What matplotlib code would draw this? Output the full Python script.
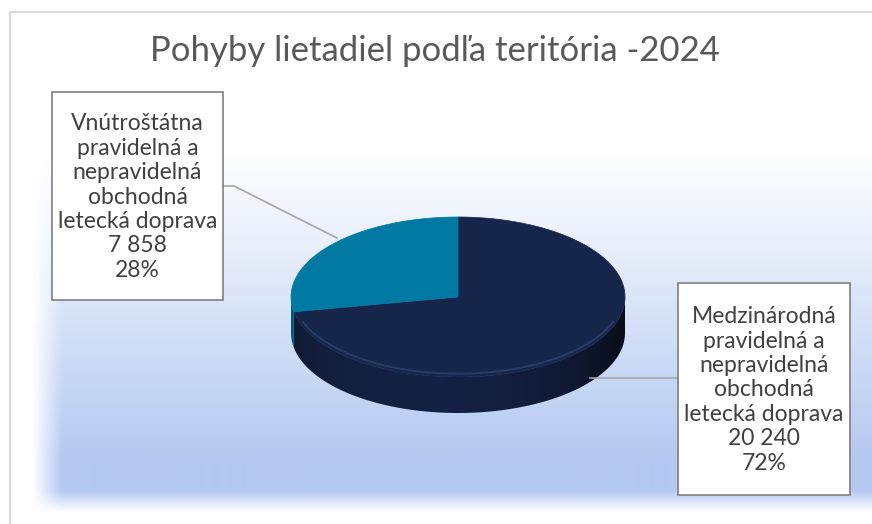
import numpy as np
import matplotlib
matplotlib.use("Agg")
import matplotlib.pyplot as plt
from matplotlib.patches import Polygon, Rectangle
from matplotlib.colors import to_rgb

# ---- data ----
title = "Pohyby lietadiel podľa teritória -2024"
categories = ["Medzinárodná\npravidelná a\nnepravidelná\nobchodná\nletecká doprava",
              "Vnútroštátna\npravidelná a\nnepravidelná\nobchodná\nletecká doprava"]
values = [20240, 7858]
colors = ["#16254a", "#0079a3"]

FONT = ["Lato", "DejaVu Sans"]
W, H = 872, 524
fig = plt.figure(figsize=(W / 100, H / 100), dpi=100)
ax = fig.add_axes([0, 0, 1, 1])
ax.set_xlim(0, W)
ax.set_ylim(H, 0)
ax.axis("off")

# ---- background gradient ----
yy, xx = np.mgrid[0:H, 0:W]
v = np.clip((yy - 150) / 310.0, 0, 1)
v = v * np.clip((512 - yy) / 22.0, 0, 1)
h = np.clip((xx - 32) / 30.0, 0, 1)
a = (v * h)[..., None]
blue = np.array([180, 201, 241]) / 255.0
img = (1 - a) * np.ones(3) + a * blue
ax.imshow(img, extent=(0, W, H, 0), zorder=0, interpolation="bilinear")

# frame
ax.add_patch(Rectangle((10, 12), W + 10, H + 10, fill=False, ec="#d9d9d9", lw=1.5, zorder=1))

# ---- 3D pie ----
cx, cy, rx, ry, depth = 458, 297, 167, 80, 36
total = sum(values)
fracs = [v_ / total for v_ in values]

def pt(theta_deg, dy=0.0, scale=1.0):
    t = np.deg2rad(theta_deg)
    return cx + scale * rx * np.cos(t), cy - scale * ry * np.sin(t) + dy

# angles: first slice clockwise from 12 o'clock
slices = []
start = 90.0
for f, c in zip(fracs, colors):
    end = start - 360 * f
    slices.append((end, start, c))
    start = end

# side walls (front half: 180..360 deg), shaded via clipped image
gx = np.linspace(0, 1, 300)
gy = np.linspace(0, 1, 60)
GX, GY = np.meshgrid(gx, gy)
k = 0.74 + 0.16 * np.sin(np.pi * np.clip(GX * 1.3, 0, 1)) - 0.42 * np.clip((GX - 0.72) / 0.28, 0, 1) ** 2
for lo, hi, c in slices:
    angs = np.linspace(lo, hi, 600)
    angs_n = np.mod(angs, 360)
    mask = (angs_n >= 180) & (angs_n <= 360)
    if not mask.any():
        continue
    sel = angs[mask]
    topp = [pt(t) for t in sel]
    botp = [pt(t, dy=depth) for t in sel[::-1]]
    poly = Polygon(topp + botp, closed=True, fc="none", ec="none", zorder=2)
    ax.add_patch(poly)
    base = np.array(to_rgb(c))
    simg = np.clip(k[..., None] * base, 0, 1)
    im = ax.imshow(simg, extent=(cx - rx, cx + rx, cy + ry + depth, cy - ry * 0.3),
                   zorder=2, interpolation="bilinear", aspect="auto")
    im.set_clip_path(poly)

# reset limits after imshow
ax.set_xlim(0, W)
ax.set_ylim(H, 0)

# top wedges
for lo, hi, c in slices:
    angs = np.linspace(lo, hi, 300)
    pts = [(cx, cy)] + [pt(t) for t in angs]
    ax.add_patch(Polygon(pts, closed=True, fc=c, ec=c, lw=0.5, zorder=3))

# bevel highlight near front rim
arc = np.linspace(200, 340, 200)
hx = [pt(t, dy=-2.5, scale=0.99)[0] for t in arc]
hy = [pt(t, dy=-2.5, scale=0.99)[1] for t in arc]
ax.plot(hx, hy, color="#4a66a0", lw=1.4, alpha=0.35, zorder=4, solid_capstyle="round")

# ---- title ----
ax.text(435, 51, title, ha="center", va="center", fontsize=25, color="#595959",
        family=FONT, zorder=6)

# ---- labels ----
def fmt(v_):
    return f"{v_:,}".replace(",", " ")

label_boxes = [(678, 283, 172, 212), (52, 92, 171, 208)]
leaders = [[(590, 378), (678, 378)], [(337, 238), (234, 186), (223, 186)]]
for (bx, by, bw, bh), lead, cat, val, f in zip(label_boxes, leaders, categories, values, fracs):
    lx, ly = zip(*lead)
    ax.plot(lx, ly, color="#a6a6a6", lw=1.2, zorder=5)
    ax.add_patch(Rectangle((bx, by), bw, bh, fc="white", ec="#7f7f7f", lw=1.2, zorder=6))
    txt = f"{cat}\n{fmt(val)}\n{round(f * 100):.0f}%"
    ax.text(bx + bw / 2, by + bh / 2 + 1, txt, ha="center", va="center", multialignment="center",
            fontsize=16.5, color="#404040", family=FONT, linespacing=1.2, zorder=7)

fig.savefig("out.png", dpi=100)
